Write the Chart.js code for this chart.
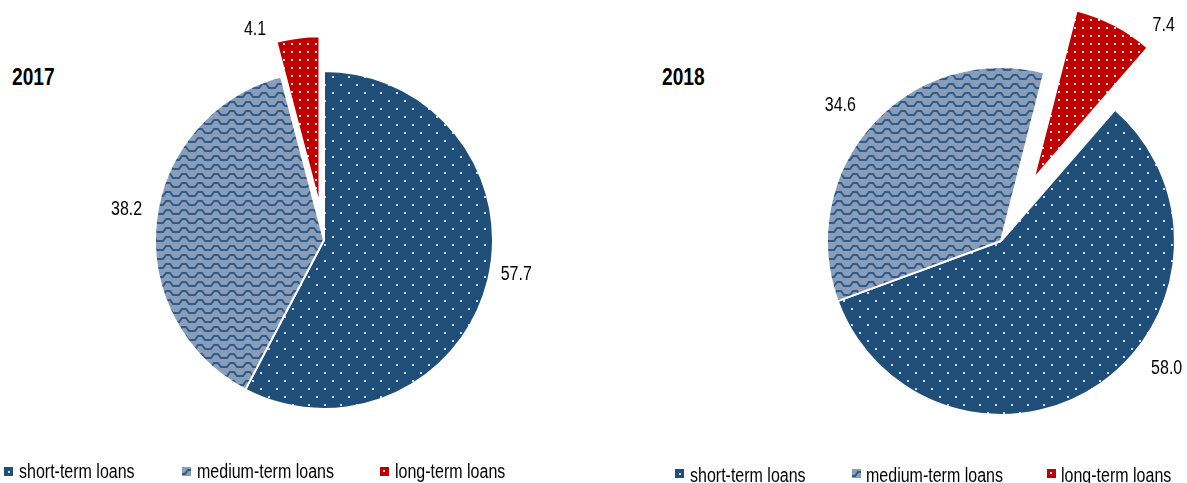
<!DOCTYPE html>
<html>
<head>
<meta charset="utf-8">
<script src="https://cdn.jsdelivr.net/npm/chart.js@4.4.0/dist/chart.umd.min.js"></script>
<style>
body{margin:0;width:1187px;height:483px;background:#fff;position:relative;overflow:hidden;font-family:"Liberation Sans",Arial,sans-serif;color:#000}
canvas.pie{position:absolute;top:0}
.title{position:absolute;top:65px;font-weight:bold;font-size:24px;line-height:24px;transform:scaleX(0.8);transform-origin:0 0;white-space:nowrap}
.sw{position:absolute;width:9px;height:9px}
.lt{position:absolute;font-size:20px;line-height:20px;transform:scaleX(0.8);transform-origin:0 0;white-space:nowrap}
</style>
</head>
<body>
<div class="title" style="left:12px" id="t0"></div>
<div class="title" style="left:662px" id="t1"></div>
<canvas class="pie" id="pie2017" width="648" height="480" style="left:0"></canvas>
<canvas class="pie" id="pie2018" width="372" height="482" style="left:815px"></canvas>
<div id="legends"></div>
<script>
const categories = ['short-term loans', 'medium-term loans', 'long-term loans'];
const years = ['2017', '2018'];
const values2017 = [57.7, 38.2, 4.1];
const values2018 = [58.0, 34.6, 7.4];

// pattern tiles: dotted navy, wavy slate, dotted red
function tile(w, h, draw) {
    let c = document.createElement('canvas');
    c.width = w; c.height = h;
    draw(c.getContext('2d'));
    return c;
}
const shortTile = tile(16, 16, g => {
    g.fillStyle = '#1f4e79'; g.fillRect(0, 0, 16, 16);
    g.fillStyle = 'rgba(255,255,255,0.8)';
    g.fillRect(4, 4, 2, 2);
    g.fillRect(12, 12, 2, 2);
});
const mediumTile = tile(16, 9, g => {
    g.fillStyle = '#8a9db8'; g.fillRect(0, 0, 16, 9);
    g.strokeStyle = '#2d5b8b'; g.lineWidth = 2;
    g.beginPath();
    g.moveTo(-1, 7); g.lineTo(3, 7); g.lineTo(6, 3); g.lineTo(10, 3); g.lineTo(13, 7); g.lineTo(17, 7);
    g.stroke();
});
const longTile = tile(8, 8, g => {
    g.fillStyle = '#c00000'; g.fillRect(0, 0, 8, 8);
    g.fillStyle = 'rgba(255,255,255,0.9)';
    g.fillRect(3, 3, 2, 2);
});
const tiles = [shortTile, mediumTile, longTile];

// pull slices out from the centre by a fixed pixel distance
const explode = {
    id: 'explode',
    afterUpdate(chart, args, opts) {
        chart.getDatasetMeta(0).data.forEach((arc, i) => {
            let d = opts.by[i] || 0;
            if (!d) return;
            let mid = (arc.startAngle + arc.endAngle) / 2;
            arc.x += Math.cos(mid) * d;
            arc.y += Math.sin(mid) * d;
        });
    }
};

// value labels around the pie (degrees clockwise from top, distance from centre)
const sliceLabels = {
    id: 'sliceLabels',
    afterDatasetsDraw(chart, args, opts) {
        const ctx = chart.ctx;
        const area = chart.chartArea;
        const cx = (area.left + area.right) / 2;
        const cy = (area.top + area.bottom) / 2;
        const vals = chart.data.datasets[0].data;
        ctx.save();
        ctx.fillStyle = '#000';
        ctx.font = '20px "Liberation Sans", Arial, sans-serif';
        ctx.textAlign = 'center';
        ctx.textBaseline = 'alphabetic';
        vals.forEach((v, i) => {
            let [deg, dist] = opts.at[i];
            let a = deg * Math.PI / 180;
            ctx.save();
            ctx.translate(cx + dist * Math.sin(a), cy - dist * Math.cos(a) + 7);
            ctx.scale(0.8, 1);
            ctx.fillText(v.toFixed(1), 0, 0);
            ctx.restore();
        });
        ctx.restore();
    }
};

function makePie(id, values, rotation, radius, pull, labelAt) {
    const ctx = document.getElementById(id).getContext('2d');
    return new Chart(ctx, {
        type: 'pie',
        data: {
            labels: categories,
            datasets: [{
                data: values,
                backgroundColor: tiles.map(t => ctx.createPattern(t, 'repeat')),
                borderColor: '#ffffff',
                borderWidth: 2
            }]
        },
        options: {
            responsive: false,
            animation: false,
            rotation: rotation,
            radius: radius,
            layout: { padding: 0 },
            plugins: {
                legend: { display: false },
                tooltip: { enabled: false },
                explode: { by: pull },
                sliceLabels: { at: labelAt }
            }
        },
        plugins: [explode, sliceLabels]
    });
}

makePie('pie2017', values2017, 0, 169, [0, 0, 35], [[99.6, 195], [279.3, 200], [342, 223]]);
makePie('pie2018', values2018, 41, 174, [0, 0, 70], [[127.2, 208], [310.4, 211], [36.9, 271]]);

document.getElementById('t0').textContent = years[0];
document.getElementById('t1').textContent = years[1];

// legends under each pie
const legendRows = [
    { sw: [4, 182, 380], tx: [19, 197, 395], swTop: 467, txTop: 461 },
    { sw: [675, 852, 1047], tx: [690, 866, 1061], swTop: 469, txTop: 465 }
];
const lg = document.getElementById('legends');
legendRows.forEach(row => {
    categories.forEach((name, i) => {
        let c = document.createElement('canvas');
        c.className = 'sw';
        c.width = 9; c.height = 9;
        c.style.left = row.sw[i] + 'px';
        c.style.top = row.swTop + 'px';
        let g = c.getContext('2d');
        g.fillStyle = g.createPattern(tiles[i], 'repeat');
        g.fillRect(0, 0, 9, 9);
        lg.appendChild(c);
        let s = document.createElement('div');
        s.className = 'lt';
        s.textContent = name;
        s.style.left = row.tx[i] + 'px';
        s.style.top = row.txTop + 'px';
        lg.appendChild(s);
    });
});
</script>
</body>
</html>
